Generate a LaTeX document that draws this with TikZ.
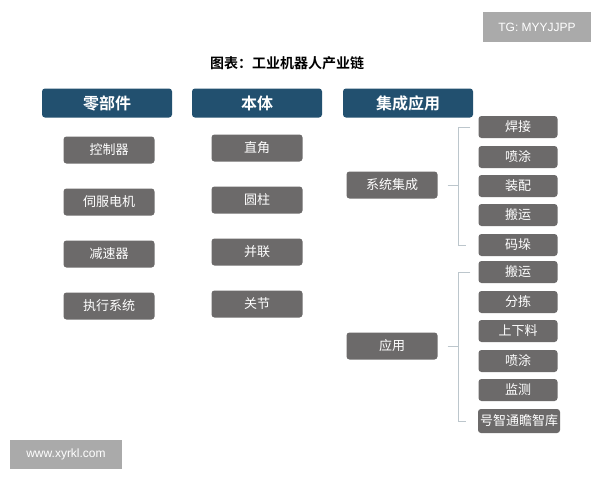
\documentclass[tikz,border=0pt]{standalone}
\usepackage{fontspec}
\newfontfamily\cjk{Noto Sans CJK SC}
\newfontfamily\cjkb{Noto Sans CJK SC Bold}
\setmainfont{Liberation Sans}
\begin{document}
\begin{tikzpicture}[x=1pt,y=-1pt,
  hdr/.style={fill=hdrblue,rounded corners=3pt,minimum width=130pt,minimum height=29pt,text=white,font=\cjkb\fontsize{16}{16}\selectfont,inner sep=0pt},
  item/.style={fill=itemgray,rounded corners=3pt,minimum width=91pt,minimum height=27pt,text=white,font=\cjk\fontsize{13}{13}\selectfont,inner sep=0pt},
  leaf/.style={fill=itemgray,rounded corners=3pt,minimum width=79pt,minimum height=22pt,text=white,font=\cjk\fontsize{13}{13}\selectfont,inner sep=0pt},
  wm/.style={fill=wmgray,text=white,inner sep=0pt,font=\fontsize{12}{12}\selectfont},
  brk/.style={draw=brkcol,line width=0.8pt}
]
\definecolor{hdrblue}{HTML}{22506F}
\definecolor{itemgray}{HTML}{6C6A6A}
\definecolor{wmgray}{HTML}{AAAAAA}
\definecolor{brkcol}{HTML}{BCC6CC}
\useasboundingbox (0,0) rectangle (600,480);
\fill[white] (0,0) rectangle (600,480);

\node[wm,minimum width=108pt,minimum height=30pt] (tg) at (537,27) {TG: MYYJJPP};
\node[font=\cjkb\fontsize{14}{14}\selectfont] (title) at (287,63) {图表：工业机器人产业链};

\node[hdr] (h1) at (107,103) {零部件};
\node[hdr] (h2) at (257,103) {本体};
\node[hdr] (h3) at (408,103) {集成应用};

\node[item] (a1) at (109,150) {控制器};
\node[item] (a2) at (109,202) {伺服电机};
\node[item] (a3) at (109,254) {减速器};
\node[item] (a4) at (109,306) {执行系统};

\node[item] (b1) at (257,148) {直角};
\node[item] (b2) at (257,200) {圆柱};
\node[item] (b3) at (257,252) {并联};
\node[item] (b4) at (257,304) {关节};

\node[item] (sys) at (392,185) {系统集成};
\node[item] (app) at (392,346) {应用};

\node[leaf] (s1) at (518,127) {焊接};
\node[leaf] (s2) at (518,157) {喷涂};
\node[leaf] (s3) at (518,186) {装配};
\node[leaf] (s4) at (518,215) {搬运};
\node[leaf] (s5) at (518,245) {码垛};

\node[leaf] (p1) at (518,272) {搬运};
\node[leaf] (p2) at (518,302) {分拣};
\node[leaf] (p3) at (518,331) {上下料};
\node[leaf] (p4) at (518,361) {喷涂};
\node[leaf] (p5) at (518,390) {监测};
\node[leaf,minimum width=82pt,minimum height=24pt] (p6) at (519,421) {号智通瞻智库};

% brackets
\coordinate (sj) at (458,185);
\draw[brk] (sys.east) ++(10,0) -- (sj);
\draw[brk] (s1.west) ++(-8,0) -| (sj |- s1.west) -- (sj |- s5.west) -- ++(8,0);
\coordinate (aj) at (458,346);
\draw[brk] (app.east) ++(10,0) -- (aj);
\draw[brk] (p1.west) ++(-8,0) -| (aj |- p1.west) -- (aj |- p6.west) -- ++(8,0);

\node[wm,minimum width=112pt,minimum height=29pt] (web) at (66,454) {www.xyrkl.com};
\end{tikzpicture}
\end{document}
